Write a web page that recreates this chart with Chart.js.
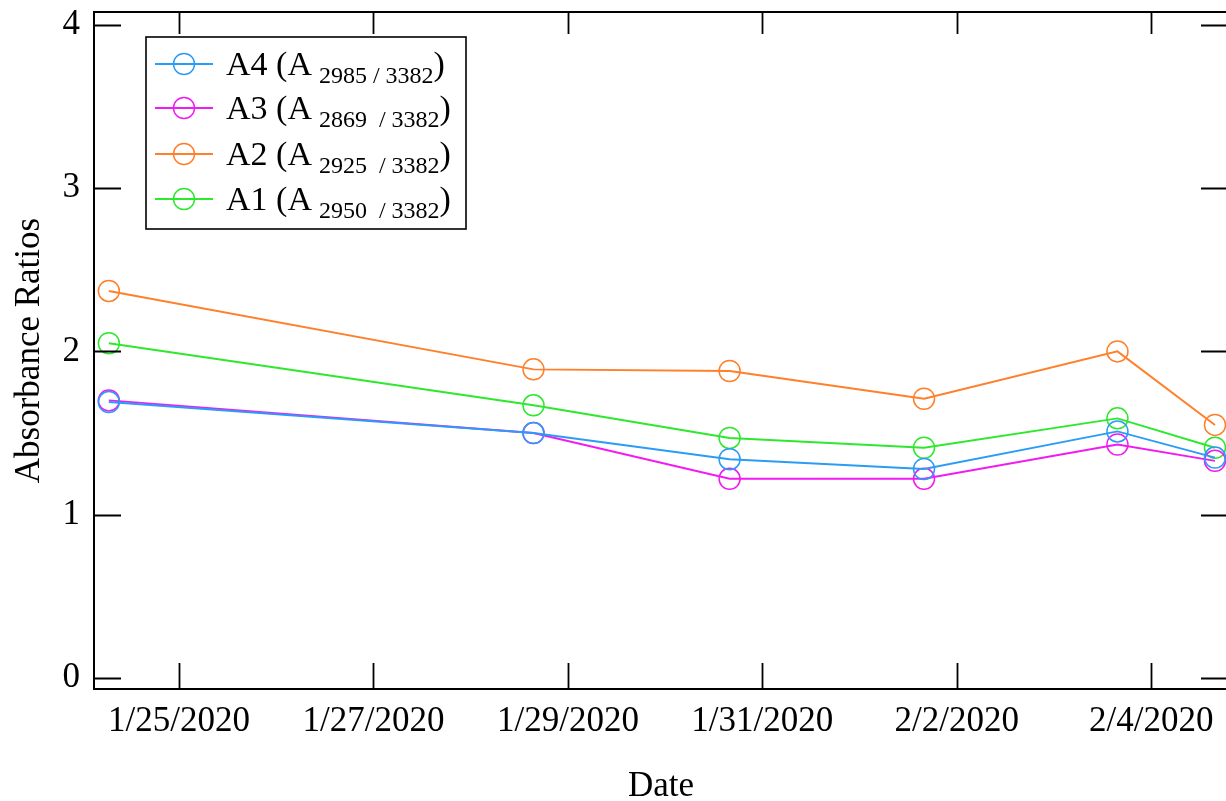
<!DOCTYPE html>
<html>
<head>
<meta charset="utf-8">
<script src="https://cdn.jsdelivr.net/npm/chart.js@4/dist/chart.umd.min.js"></script>
<style>
html,body{margin:0;padding:0;overflow:hidden;background:#fff;}
#wrap{width:1240px;height:801px;position:relative;}
</style>
</head>
<body>
<div id="wrap"><canvas id="c"></canvas></div>
<script>
// ---- data ----
const sampleTimes = ['2020-01-24T06:40','2020-01-28T15:30','2020-01-30T15:55','2020-02-01T15:55','2020-02-03T15:40','2020-02-04T15:45'];
const seriesNames = ['A4', 'A3', 'A2', 'A1'];
const subNumerators = ['2985', '2869', '2925', '2950'];
const subDenominator = '3382';
const a4Values = [1.69, 1.50, 1.34, 1.28, 1.51, 1.35];
const a3Values = [1.70, 1.50, 1.22, 1.22, 1.43, 1.33];
const a2Values = [2.37, 1.89, 1.88, 1.71, 2.00, 1.55];
const a1Values = [2.05, 1.67, 1.47, 1.41, 1.59, 1.41];
const xTickLabels = ['1/25/2020','1/27/2020','1/29/2020','1/31/2020','2/2/2020','2/4/2020'];
const yTickValues = [0, 1, 2, 3, 4];
const xTitle = 'Date';
const yTitle = 'Absorbance Ratios';

// ---- helpers ----
const base = Date.UTC(2020, 0, 25);
const toDays = s => (new Date(s + 'Z').getTime() - base) / 864e5;
const labelToDays = l => { const [m, d, y] = l.split('/').map(Number); return (Date.UTC(y, m - 1, d) - base) / 864e5; };
const xVals = sampleTimes.map(toDays);
const xTickVals = xTickLabels.map(labelToDays);
const pts = arr => arr.map((v, i) => ({x: xVals[i], y: v}));

const colors = ['#2b9cf5', '#f21af2', '#ff7f2a', '#2ee82e'];
const valuesList = [a4Values, a3Values, a2Values, a1Values];
const FONT = "'Liberation Serif', 'Times New Roman', serif";

const datasets = seriesNames.map((n, i) => ({
  label: n + ' (A' + subNumerators[i] + ' / ' + subDenominator + ')',
  data: pts(valuesList[i]),
  borderColor: colors[i],
  backgroundColor: 'rgba(0,0,0,0)',
  pointBorderColor: colors[i],
  pointBackgroundColor: 'rgba(0,0,0,0)',
  pointRadius: 10.5,
  pointHoverRadius: 10.5,
  pointBorderWidth: 1.5,
  borderWidth: 1.9,
  tension: 0,
  clip: false
}));

const framePlugin = {
  id: 'frame',
  afterDatasetsDraw(chart) {
    const {ctx, chartArea: a, scales} = chart;
    ctx.save();
    ctx.strokeStyle = '#000';
    ctx.lineWidth = 2;
    ctx.strokeRect(a.left, a.top, a.right - a.left, a.bottom - a.top);
    ctx.beginPath();
    yTickValues.forEach(v => {
      const y = Math.round(scales.y.getPixelForValue(v)) + 0.5;
      ctx.moveTo(a.left, y); ctx.lineTo(a.left + 27, y);
      ctx.moveTo(a.right, y); ctx.lineTo(a.right - 27, y);
    });
    xTickVals.forEach(v => {
      const x = Math.round(scales.x.getPixelForValue(v)) + 0.5;
      ctx.moveTo(x, a.bottom); ctx.lineTo(x, a.bottom - 26);
      ctx.moveTo(x, a.top); ctx.lineTo(x, a.top + 22);
    });
    ctx.lineWidth = 1.8;
    ctx.stroke();
    ctx.restore();
  },
  afterDraw(chart) {
    const ctx = chart.ctx;
    const bx = 146, by = 37, bw = 320, bh = 192;
    ctx.save();
    ctx.fillStyle = '#fff';
    ctx.fillRect(bx, by, bw, bh);
    ctx.strokeStyle = '#000';
    ctx.lineWidth = 1.6;
    ctx.strokeRect(bx, by, bw, bh);
    const rowY = [64, 108, 154, 199];
    chart.data.datasets.forEach((ds, i) => {
      const y = rowY[i];
      ctx.strokeStyle = ds.borderColor;
      ctx.lineWidth = 1.9;
      ctx.beginPath(); ctx.moveTo(155, y); ctx.lineTo(213, y); ctx.stroke();
      ctx.lineWidth = 1.5;
      ctx.beginPath(); ctx.arc(184, y, 10.5, 0, Math.PI * 2); ctx.stroke();
      ctx.fillStyle = '#000';
      ctx.textBaseline = 'alphabetic';
      ctx.textAlign = 'left';
      let x = 226;
      const baseY = y + 11;
      ctx.font = '34px ' + FONT;
      const main = seriesNames[i] + ' (A';
      ctx.fillText(main, x, baseY);
      x += ctx.measureText(main).width + 7;
      ctx.font = '24px ' + FONT;
      const sub = subNumerators[i] + (i === 0 ? ' / ' : '  / ') + subDenominator;
      ctx.fillText(sub, x, baseY + 8);
      x += ctx.measureText(sub).width;
      ctx.font = '34px ' + FONT;
      ctx.fillText(')', x, baseY);
    });
    ctx.restore();
  }
};

new Chart(document.getElementById('c'), {
  type: 'line',
  data: { datasets },
  options: {
    responsive: true,
    maintainAspectRatio: false,
    animation: false,
    events: [],
    layout: { padding: { top: 12, right: 6, left: 0, bottom: 0 } },
    plugins: { legend: { display: false }, tooltip: { enabled: false } },
    scales: {
      x: {
        type: 'linear',
        min: -0.875,
        max: 10.79,
        grid: { display: false, drawTicks: false },
        border: { display: false },
        afterBuildTicks: s => { s.ticks = xTickVals.map(v => ({ value: v })); },
        afterFit: s => { s.height = 112; s.paddingLeft = 0; s.paddingRight = 0; },
        ticks: {
          autoSkip: false,
          maxRotation: 0,
          padding: 12,
          color: '#000',
          font: { family: FONT, size: 35 },
          callback: (v) => { const i = xTickVals.indexOf(v); return i >= 0 ? xTickLabels[i] : ''; }
        },
        title: { display: true, text: xTitle, color: '#000', font: { family: FONT, size: 35, lineHeight: 1 }, padding: { top: 0, bottom: -3 } }
      },
      y: {
        min: -0.067,
        max: 4.078,
        grid: { display: false, drawTicks: false },
        border: { display: false },
        afterBuildTicks: s => { s.ticks = yTickValues.map(v => ({ value: v })); },
        afterFit: s => { s.width = 94; s.paddingTop = 0; s.paddingBottom = 0; },
        ticks: {
          padding: 14,
          color: '#000',
          font: { family: FONT, size: 35 },
          callback: v => String(v)
        },
        title: { display: true, text: yTitle, color: '#000', font: { family: FONT, size: 35, lineHeight: 1 }, padding: { top: 12, bottom: 0 } }
      }
    }
  },
  plugins: [framePlugin]
});
</script>
</body>
</html>
